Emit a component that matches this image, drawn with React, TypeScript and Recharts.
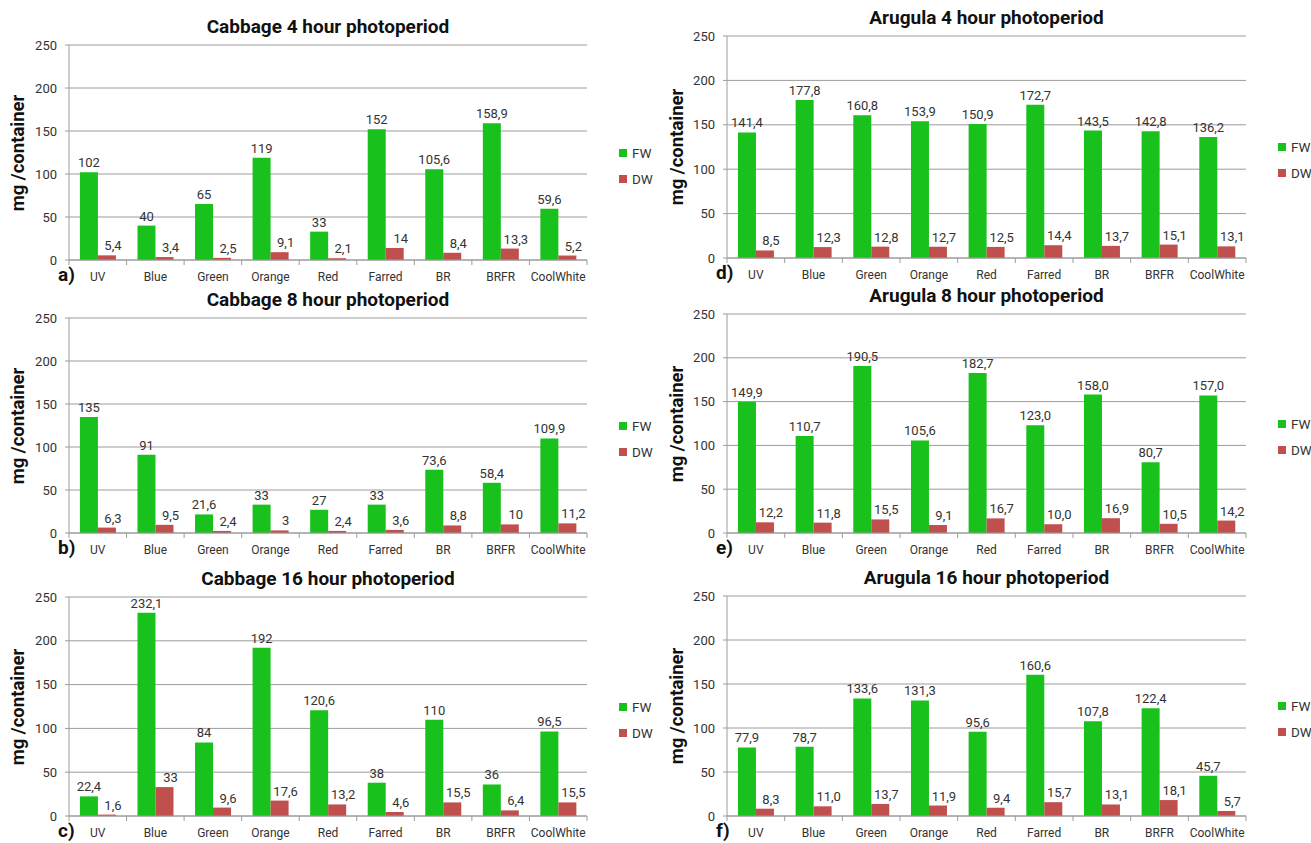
import { BarChart, Bar, XAxis, YAxis, CartesianGrid, LabelList, Legend } from 'recharts';

const LIGHTS = ['UV', 'Blue', 'Green', 'Orange', 'Red', 'Farred', 'BR', 'BRFR', 'CoolWhite'];
const SERIES = ['FW', 'DW'];
const Y_TICKS = [0, 50, 100, 150, 200, 250];

const cabbage4FW = [102, 40, 65, 119, 33, 152, 105.6, 158.9, 59.6];
const cabbage4DW = [5.4, 3.4, 2.5, 9.1, 2.1, 14, 8.4, 13.3, 5.2];
const cabbage8FW = [135, 91, 21.6, 33, 27, 33, 73.6, 58.4, 109.9];
const cabbage8DW = [6.3, 9.5, 2.4, 3, 2.4, 3.6, 8.8, 10, 11.2];
const cabbage16FW = [22.4, 232.1, 84, 192, 120.6, 38, 110, 36, 96.5];
const cabbage16DW = [1.6, 33, 9.6, 17.6, 13.2, 4.6, 15.5, 6.4, 15.5];

const arugula4FW = [141.4, 177.8, 160.8, 153.9, 150.9, 172.7, 143.5, 142.8, 136.2];
const arugula4DW = [8.5, 12.3, 12.8, 12.7, 12.5, 14.4, 13.7, 15.1, 13.1];
const arugula8FW = [149.9, 110.7, 190.5, 105.6, 182.7, 123.0, 158.0, 80.7, 157.0];
const arugula8DW = [12.2, 11.8, 15.5, 9.1, 16.7, 10.0, 16.9, 10.5, 14.2];
const arugula16FW = [77.9, 78.7, 133.6, 131.3, 95.6, 160.6, 107.8, 122.4, 45.7];
const arugula16DW = [8.3, 11.0, 13.7, 11.9, 9.4, 15.7, 13.1, 18.1, 5.7];

const GREEN = '#19c11c';
const RED = '#c0504d';
const GRID = '#9c9c9c';
const TEXT = '#333';
const FONT = 'Roboto, "Liberation Sans", sans-serif';

const fmtRaw = (v: number) => String(v).replace('.', ',');
const fmtOne = (v: number) => v.toFixed(1).replace('.', ',');

type PanelProps = {
  left: number;
  width: number;
  plotLeft: number;
  plotRight: number;
  plotTop: number;
  plotBottom: number;
  title: string;
  letter: string;
  fw: number[];
  dw: number[];
  fmt: (v: number) => string;
};

function Panel({ left, width, plotLeft, plotRight, plotTop, plotBottom, title, letter, fw, dw, fmt }: PanelProps) {
  const data = LIGHTS.map((name, i) => ({ name, FW: fw[i], DW: dw[i] }));
  const top = plotTop - 40;
  const plotH = plotBottom - plotTop;
  const height = plotH + 70;
  const yAxisW = 40;
  const band = (plotRight - plotLeft) / LIGHTS.length;
  const midY = plotTop + plotH / 2;

  const makeLabel = (dx: number) => (p: any) => (
    <text
      x={Number(p.x) + Number(p.width) / 2 + dx}
      y={Number(p.y) - 5}
      textAnchor="middle"
      fontSize={13}
      fontFamily={FONT}
      fill={TEXT}
    >
      {fmt(Number(p.value))}
    </text>
  );

  const catTick = (p: any) => {
    const x = Number(p.x);
    const y = Number(p.y);
    const last = p.index === LIGHTS.length - 1;
    return (
      <g>
        <line x1={x - band / 2} x2={x - band / 2} y1={y - 5} y2={y} stroke={GRID} />
        {last && <line x1={x + band / 2} x2={x + band / 2} y1={y - 5} y2={y} stroke={GRID} />}
        <text x={x} y={y + 16} textAnchor="middle" fontSize={12} fontFamily={FONT} fill={TEXT}>
          {p.payload.value}
        </text>
      </g>
    );
  };

  return (
    <>
      <div
        style={{
          position: 'absolute', left: (plotLeft + plotRight) / 2 - 200, width: 400, top: plotTop - 30,
          textAlign: 'center', fontFamily: FONT, fontWeight: 700, fontSize: 19, color: '#111', lineHeight: '24px',
        }}
      >
        {title}
      </div>
      <div
        style={{
          position: 'absolute', left: left === 0 ? 18 : 677, top: midY, transform: 'translate(-50%, -50%) rotate(-90deg)',
          whiteSpace: 'nowrap', fontFamily: FONT, fontWeight: 700, fontSize: 18.5, color: '#111',
        }}
      >
        mg /container
      </div>
      <div
        style={{
          position: 'absolute', left: plotLeft - 11, top: plotBottom + 7, fontFamily: FONT, fontWeight: 700,
          fontSize: 19, color: '#111', lineHeight: '16px',
        }}
      >
        {letter}
      </div>
      <div style={{ position: 'absolute', left, top, width, height }}>
        <BarChart
          width={width}
          height={height}
          data={data}
          margin={{ top: 40, bottom: 0, left: plotLeft - left - yAxisW, right: left + width - plotRight }}
          barCategoryGap="19%"
          barGap={0}
        >
          <CartesianGrid vertical={false} stroke={GRID} />
          <XAxis
            dataKey="name"
            height={30}
            interval={0}
            tickLine={false}
            tickSize={5}
            tickMargin={0}
            stroke={GRID}
            tick={catTick}
          />
          <YAxis
            width={yAxisW}
            domain={[0, 250]}
            ticks={Y_TICKS}
            interval={0}
            tickSize={4}
            tickMargin={8}
            stroke={GRID}
            tick={{ fontSize: 13, fill: TEXT, fontFamily: FONT }}
          />
          <Legend
            layout="vertical"
            align="center"
            verticalAlign="middle"
            wrapperStyle={{ left: (left === 0 ? 619 : 1278) - left, top: midY - top - 13, width: 50 }}
            content={(props: any) => {
              const items = [...(props.payload || [])].sort(
                (a: any, b: any) => SERIES.indexOf(a.value) - SERIES.indexOf(b.value),
              );
              return (
                <div>
                  {items.map((e: any) => (
                    <div key={e.value} style={{ display: 'flex', alignItems: 'center', height: 26, fontFamily: FONT, fontSize: 13.5, color: TEXT }}>
                      <span style={{ width: 8, height: 8, background: e.color, display: 'inline-block', marginRight: 5 }} />
                      {e.value}
                    </div>
                  ))}
                </div>
              );
            }}
          />
          <Bar dataKey="FW" name="FW" fill={GREEN} isAnimationActive={false}>
            <LabelList dataKey="FW" content={makeLabel(0)} />
          </Bar>
          <Bar dataKey="DW" name="DW" fill={RED} isAnimationActive={false}>
            <LabelList dataKey="DW" content={makeLabel(6)} />
          </Bar>
        </BarChart>
      </div>
    </>
  );
}

export default function App() {
  const cab = { left: 0, width: 660, plotLeft: 69, plotRight: 587, fmt: fmtRaw };
  const aru = { left: 650, width: 661, plotLeft: 727, plotRight: 1246, fmt: fmtOne };
  return (
    <div style={{ position: 'absolute', left: 0, top: 0, width: 1311, height: 843, background: '#fff', overflow: 'hidden' }}>
      <Panel {...cab} plotTop={45} plotBottom={260} title="Cabbage 4 hour photoperiod" letter="a)" fw={cabbage4FW} dw={cabbage4DW} />
      <Panel {...cab} plotTop={318} plotBottom={533} title="Cabbage 8 hour photoperiod" letter="b)" fw={cabbage8FW} dw={cabbage8DW} />
      <Panel {...cab} plotTop={597} plotBottom={816} title="Cabbage 16 hour photoperiod" letter="c)" fw={cabbage16FW} dw={cabbage16DW} />
      <Panel {...aru} plotTop={36} plotBottom={258} title="Arugula 4 hour photoperiod" letter="d)" fw={arugula4FW} dw={arugula4DW} />
      <Panel {...aru} plotTop={314} plotBottom={533} title="Arugula 8 hour photoperiod" letter="e)" fw={arugula8FW} dw={arugula8DW} />
      <Panel {...aru} plotTop={596} plotBottom={816} title="Arugula 16 hour photoperiod" letter="f)" fw={arugula16FW} dw={arugula16DW} />
    </div>
  );
}
